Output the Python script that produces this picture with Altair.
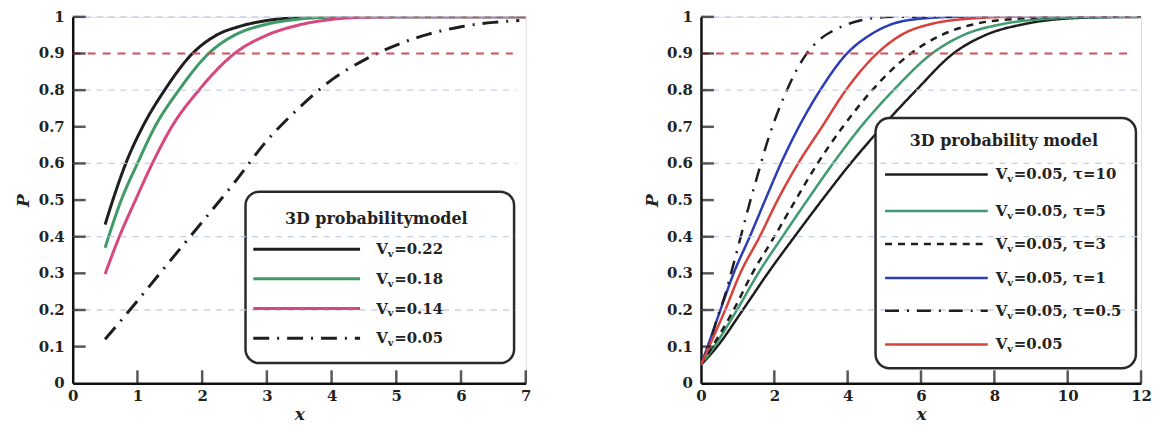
import altair as alt
import pandas as pd

# ---------------- Left panel data ----------------
left_labels = ["=0.22", "=0.18", "=0.14", "=0.05"]
left_colors = ["#1e1e1e", "#3f9a66", "#d6487e", "#1e1e1e"]
left_dashes = [[1, 0], [1, 0], [1, 0], [16, 8, 2, 8]]

l_x_022 = [0.5, 0.62, 0.82, 1.08, 1.42, 1.85, 2.2, 2.6, 3.0, 3.5, 4.0, 7.0]
l_p_022 = [0.433, 0.5, 0.6, 0.7, 0.8, 0.9, 0.948, 0.975, 0.99, 0.998, 1.0, 1.0]
l_x_018 = [0.5, 0.75, 1.0, 1.27, 1.64, 2.1, 2.5, 2.95, 3.4, 4.0, 4.5, 7.0]
l_p_018 = [0.37, 0.5, 0.6, 0.7, 0.8, 0.9, 0.95, 0.978, 0.992, 0.999, 1.0, 1.0]
l_x_014 = [0.5, 0.72, 0.97, 1.23, 1.53, 1.95, 2.5, 3.0, 3.5, 4.0, 4.5, 5.0, 7.0]
l_p_014 = [0.298, 0.4, 0.5, 0.6, 0.7, 0.8, 0.9, 0.95, 0.978, 0.993, 0.999, 1.0, 1.0]
l_x_005 = [0.5, 1.0, 1.5, 2.0, 2.5, 3.0, 3.5, 4.0, 4.5, 5.0, 5.5, 6.0, 6.5, 6.9]
l_p_005 = [0.12, 0.225, 0.333, 0.44, 0.548, 0.662, 0.752, 0.828, 0.882, 0.923, 0.953, 0.973, 0.985, 0.99]

left_x_ticks = [0, 1, 2, 3, 4, 5, 6, 7]
y_ticks = [0, 0.1, 0.2, 0.3, 0.4, 0.5, 0.6, 0.7, 0.8, 0.9, 1.0]
y_tick_labels = ["0", "0.1", "0.2", "0.3", "0.4", "0.5", "0.6", "0.7", "0.8", "0.9", "1"]
grid_levels = [0.2, 0.4, 0.6, 0.8, 1.0]
threshold = [0.9]

# ---------------- Right panel data ----------------
right_labels = ["=0.05, τ=10", "=0.05, τ=5", "=0.05, τ=3", "=0.05, τ=1", "=0.05, τ=0.5", "=0.05"]
right_colors = ["#1e1e1e", "#3f9a6f", "#1e1e1e", "#2b3cb8", "#1e1e1e", "#d8413a"]
right_dashes = [[1, 0], [1, 0], [7, 6], [1, 0], [14, 8, 2, 8], [1, 0]]

r_x_t10 = [0, 0.44, 1.14, 1.82, 2.55, 3.3, 4.08, 4.94, 5.87, 6.88, 7.75, 8.8, 9.9, 11.0, 12.0]
r_p_t10 = [0.05, 0.1, 0.2, 0.3, 0.4, 0.5, 0.6, 0.7, 0.8, 0.9, 0.95, 0.98, 0.995, 0.999, 1.0]
r_x_t5 = [0, 0.36, 0.98, 1.56, 2.22, 2.9, 3.6, 4.36, 5.25, 6.3, 7.15, 8.2, 9.5, 10.5, 12.0]
r_p_t5 = [0.05, 0.1, 0.2, 0.3, 0.4, 0.5, 0.6, 0.7, 0.8, 0.9, 0.95, 0.98, 0.995, 0.999, 1.0]
r_x_t3 = [0, 0.31, 0.89, 1.4, 2.0, 2.58, 3.18, 3.87, 4.67, 5.72, 6.55, 7.45, 8.8, 10.0, 12.0]
r_p_t3 = [0.05, 0.1, 0.2, 0.3, 0.4, 0.5, 0.6, 0.7, 0.8, 0.9, 0.95, 0.98, 0.996, 1.0, 1.0]
r_x_t1 = [0, 0.18, 0.53, 0.89, 1.33, 1.75, 2.18, 2.67, 3.25, 3.98, 4.6, 5.2, 6.1, 7.0, 12.0]
r_p_t1 = [0.05, 0.1, 0.2, 0.3, 0.4, 0.5, 0.6, 0.7, 0.8, 0.9, 0.95, 0.98, 0.996, 1.0, 1.0]
r_x_t05 = [0, 0.27, 0.45, 0.67, 0.82, 0.98, 1.15, 1.35, 1.55, 1.75, 2.0, 2.3, 2.58, 2.85, 3.2, 3.6, 4.0, 4.6, 5.2, 12.0]
r_p_t05 = [0.05, 0.12, 0.18, 0.245, 0.3, 0.36, 0.425, 0.5, 0.57, 0.64, 0.715, 0.79, 0.85, 0.895, 0.935, 0.962, 0.98, 0.995, 1.0, 1.0]
r_x_v = [0, 0.22, 0.66, 1.07, 1.6, 2.09, 2.65, 3.3, 3.95, 4.8, 5.45, 6.25, 7.6, 8.5, 12.0]
r_p_v = [0.05, 0.1, 0.2, 0.3, 0.4, 0.5, 0.6, 0.7, 0.8, 0.9, 0.95, 0.98, 0.997, 1.0, 1.0]

right_x_ticks = [0, 2, 4, 6, 8, 10, 12]

FONT = "DejaVu Serif"


def curves_df(labels, xs_list, ps_list, key):
    rows = []
    for lab, xs, ps in zip(labels, xs_list, ps_list):
        for i, (x, p) in enumerate(zip(xs, ps)):
            rows.append({key: lab, "x": x, "p": p, "i": i})
    return pd.DataFrame(rows)


def panel(key, labels, colors, dashes, xs_list, ps_list, xmax, x_ticks, width, height,
          line_w, box, title_pos, entry_ys, sample_x, label_x, grid_xmax, red_xmax, legend_title):
    cscale = alt.Scale(domain=labels, range=colors)
    dscale = alt.Scale(domain=labels, range=dashes)
    xs = alt.Scale(domain=[0, xmax], nice=False, zero=False)
    ys = alt.Scale(domain=[0, 1], nice=False, zero=False)

    xaxis = alt.Axis(values=x_ticks, format="~g", ticks=False, tickSize=0, grid=False,
                     domainColor="#111", domainWidth=2.5, labelFont=FONT, labelFontWeight="bold",
                     labelFontSize=15, labelColor="#222", labelPadding=5, labelFlush=False,
                     labelOverlap=False,
                     title="x", titleFont=FONT, titleFontStyle="italic", titleFontWeight="bold",
                     titleFontSize=17, titlePadding=3, titleColor="#222")
    yaxis = alt.Axis(values=y_ticks, labels=False, ticks=False, tickSize=0, grid=False,
                     domainColor="#111", domainWidth=2.5,
                     title="P", titleFont=FONT, titleFontStyle="italic", titleFontWeight="bold",
                     titleFontSize=17, titlePadding=40, titleColor="#222")

    df = curves_df(labels, xs_list, ps_list, key)
    lines = alt.Chart(df).mark_line(strokeWidth=line_w, interpolate="monotone", clip=True).encode(
        x=alt.X("x:Q", scale=xs, axis=xaxis),
        y=alt.Y("p:Q", scale=ys, axis=yaxis),
        color=alt.Color(f"{key}:N", scale=cscale, legend=None),
        strokeDash=alt.StrokeDash(f"{key}:N", scale=dscale, legend=None),
        detail=f"{key}:N",
        order="i:Q",
    )

    box_df = pd.DataFrame([{"x1": box[0], "x2": box[1], "y1": box[2], "y2": box[3]}])
    legend_box = alt.Chart(box_df).mark_rect(fill="white", stroke="#2a2a2a", strokeWidth=2.5,
                                             cornerRadius=14).encode(
        x="x1:Q", x2="x2:Q", y="y1:Q", y2="y2:Q")

    gdf = pd.DataFrame({"g": grid_levels, "x0": [0] * len(grid_levels), "x1": [grid_xmax] * len(grid_levels)})
    grid = alt.Chart(gdf).mark_rule(stroke="#c3c9e8", strokeWidth=1.3, strokeDash=[6, 6], opacity=0.9).encode(
        x="x0:Q", x2="x1:Q", y="g:Q")

    rdf = pd.DataFrame({"g": threshold, "x0": [0], "x1": [red_xmax]})
    red = alt.Chart(rdf).mark_rule(stroke="#d2505c", strokeWidth=2, strokeDash=[8, 7]).encode(
        x="x0:Q", x2="x1:Q", y="g:Q")

    xt = pd.DataFrame({"t": [t for t in x_ticks if t > 0]})
    xticks = alt.Chart(xt).mark_tick(orient="vertical", size=13, thickness=2.5, color="#111",
                                     yOffset=-6.5).encode(x="t:Q", y=alt.datum(0))
    yt = pd.DataFrame({"t": [t for t in y_ticks if t > 0]})
    yticks = alt.Chart(yt).mark_tick(orient="horizontal", size=13, thickness=2.5, color="#111",
                                     xOffset=6.5).encode(y="t:Q", x=alt.datum(0))
    ylab_df = pd.DataFrame({"t": y_ticks, "lab": y_tick_labels})
    ylabels = alt.Chart(ylab_df).mark_text(align="right", baseline="middle", font=FONT,
                                           fontWeight="bold", fontSize=15, color="#222",
                                           dx=-8).encode(y="t:Q", x=alt.datum(0), text="lab:N")

    ldf = pd.DataFrame({key: labels, "ly": entry_ys, "sx1": [sample_x[0]] * len(labels),
                        "sx2": [sample_x[1]] * len(labels), "lx": [label_x] * len(labels),
                        "main": ["V"] * len(labels), "sub": ["v"] * len(labels), "rest": labels})
    samples = alt.Chart(ldf).mark_rule(strokeWidth=line_w).encode(
        x="sx1:Q", x2="sx2:Q", y="ly:Q",
        color=alt.Color(f"{key}:N", scale=cscale, legend=None),
        strokeDash=alt.StrokeDash(f"{key}:N", scale=dscale, legend=None))
    tV = alt.Chart(ldf).mark_text(align="left", baseline="middle", font=FONT, fontWeight="bold",
                                  fontSize=15, color="#222").encode(x="lx:Q", y="ly:Q", text="main:N")
    tv = alt.Chart(ldf).mark_text(align="left", baseline="middle", font=FONT, fontWeight="bold",
                                  fontSize=10, color="#222", dx=11.5, dy=5).encode(x="lx:Q", y="ly:Q", text="sub:N")
    tr = alt.Chart(ldf).mark_text(align="left", baseline="middle", font=FONT, fontWeight="bold",
                                  fontSize=15, color="#222", dx=18).encode(x="lx:Q", y="ly:Q", text="rest:N")
    tdf = pd.DataFrame([{"x": title_pos[0], "y": title_pos[1], "t": legend_title}])
    ttl = alt.Chart(tdf).mark_text(align="center", baseline="middle", font=FONT, fontWeight="bold",
                                   fontSize=16, color="#222").encode(x="x:Q", y="y:Q", text="t:N")

    return alt.layer(lines, legend_box, grid, red, xticks, yticks, ylabels, samples, tV, tv, tr, ttl).properties(
        width=width, height=height)


left = panel("sl", left_labels, left_colors, left_dashes,
             [l_x_022, l_x_018, l_x_014, l_x_005], [l_p_022, l_p_018, l_p_014, l_p_005],
             7, left_x_ticks, 455, 368, 3,
             box=(2.67, 6.82, 0.523, 0.055), title_pos=(4.69, 0.447),
             entry_ys=[0.366, 0.285, 0.204, 0.123], sample_x=(2.79, 4.44), label_x=4.69,
             grid_xmax=6.85, red_xmax=6.8, legend_title="3D probabilitymodel")

right = panel("sr", right_labels, right_colors, right_dashes,
              [r_x_t10, r_x_t5, r_x_t3, r_x_t1, r_x_t05, r_x_v],
              [r_p_t10, r_p_t5, r_p_t3, r_p_t1, r_p_t05, r_p_v],
              12, right_x_ticks, 442, 368, 2.5,
              box=(4.76, 11.86, 0.724, 0.041), title_pos=(8.26, 0.66),
              entry_ys=[0.57, 0.47, 0.38, 0.287, 0.198, 0.106], sample_x=(5.02, 7.82), label_x=8.04,
              grid_xmax=11.9, red_xmax=11.8, legend_title="3D probability model")

chart = alt.hconcat(left, right, spacing=176, bounds="flush").resolve_scale(
    color="independent", strokeDash="independent"
).properties(
    padding={"left": 6, "top": 0, "right": 0, "bottom": 0}
).configure_view(stroke=None).configure(background="white")

chart.save("out.html", embed_options={"renderer": "svg", "actions": False})
